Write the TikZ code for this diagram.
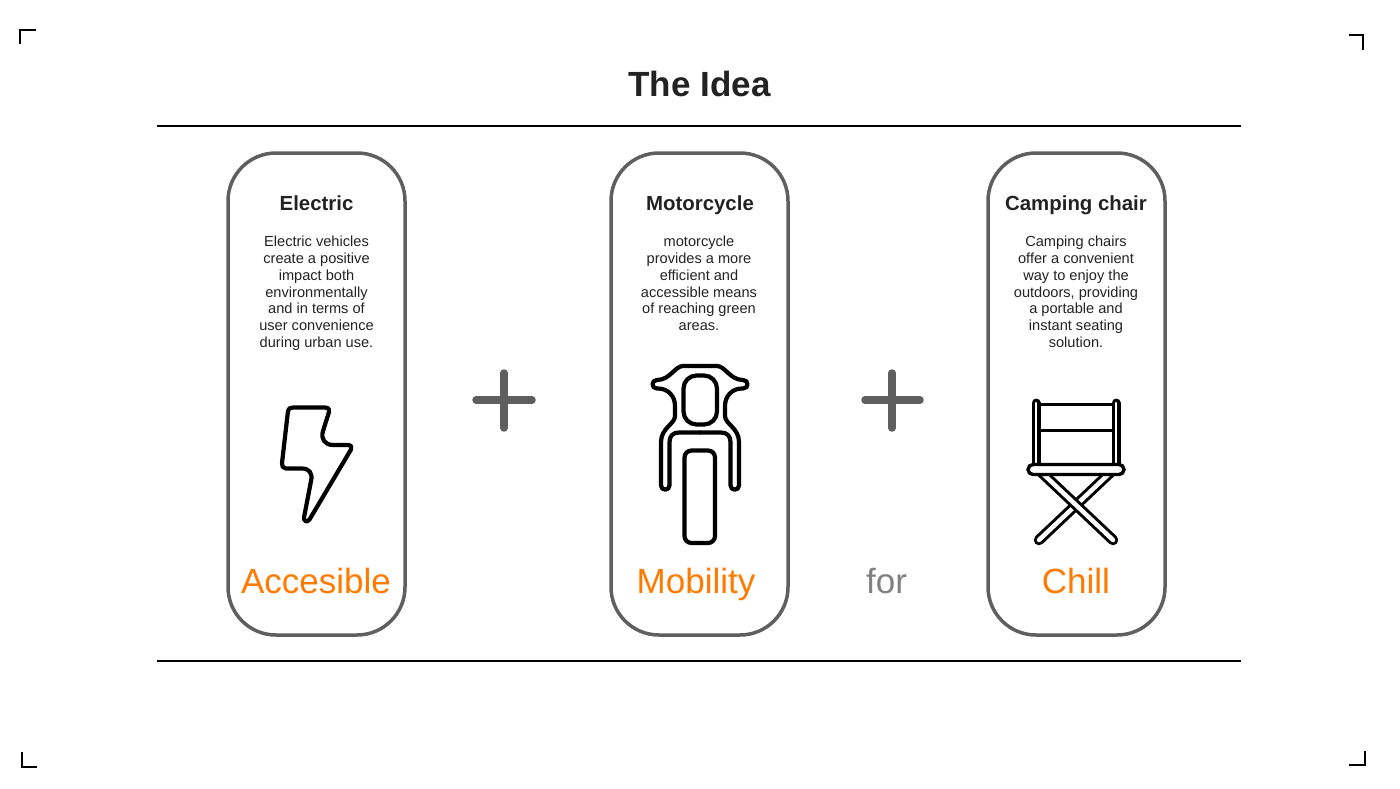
\documentclass[tikz,border=0pt]{standalone}
\usepackage{xcolor}
\usepackage{fontspec}
\setmainfont{Liberation Sans}
\definecolor{pillgray}{HTML}{5F5F5F}
\definecolor{wordorange}{HTML}{FF7A00}
\definecolor{wordgray}{HTML}{808080}
\definecolor{inkdark}{HTML}{222222}
\tikzset{
  cropmark/.style={black,line width=2pt},
  rulebar/.style={black,line width=2pt},
  pillbox/.style={pillgray,line width=3.5pt,rounded corners=48pt},
  plusbar/.style={pillgray,line width=7.5pt,line cap=round},
  icon/.style={black,line width=4.2pt,line join=round,line cap=round},
  headline/.style={font=\bfseries\fontsize{20.4}{24}\selectfont,text=inkdark,anchor=base},
  blurb/.style={font=\fontsize{14.6}{16.8}\selectfont,align=center,anchor=north,text=inkdark},
  keyword/.style={font=\fontsize{35}{40}\selectfont,text=wordorange,anchor=base}
}
\begin{document}
\begin{tikzpicture}[x=1pt,y=-1pt]
      \useasboundingbox (0,0) rectangle (1400,788);
      % corners
      \draw[cropmark] (20,44) -- (20,30) -- (36,30);
      \draw[cropmark] (1349,35) -- (1363,35) -- (1363,50);
      \draw[cropmark] (22,752) -- (22,767) -- (37,767);
      \draw[cropmark] (1349,765) -- (1365,765) -- (1365,751);
      % title and rules
      \node[font=\bfseries\fontsize{35}{40}\selectfont,text=inkdark] (title) at (699.5,84) {The Idea};
      \draw[rulebar] (157,126) -- (1241,126);
      \draw[rulebar] (157,661) -- (1241,661);
      % pills
      \draw[pillbox] (228,153) rectangle (405,635);
      \draw[pillbox] (611,153) rectangle (788,635);
      \draw[pillbox] (988,153) rectangle (1165,635);
      % plus signs
      \draw[plusbar] (476,400) -- (532,400);
      \draw[plusbar] (504,373) -- (504,428);
      \draw[plusbar] (865,400) -- (920,400);
      \draw[plusbar] (892,373) -- (892,428);
      % headings
      \node[headline] (electric) at (316.5,210) {Electric};
      \node[headline] (motorcycle) at (700,210) {Motorcycle};
      \node[headline] (chair) at (1076,210) {Camping chair};
      \node[blurb] (electrictext) at (316.5,232.5) {Electric vehicles\\create a positive\\impact both\\environmentally\\and in terms of\\user convenience\\during urban use.};
      \node[blurb] (motorcycletext) at (699,232.5) {motorcycle\\provides a more\\efficient and\\accessible means\\of reaching green\\areas.};
      \node[blurb] (chairtext) at (1076,232.5) {Camping chairs\\offer a convenient\\way to enjoy the\\outdoors, providing\\a portable and\\instant seating\\solution.};
      % bolt
      \draw[icon] (293,407.5) -- (325,407.5) .. controls (329,407.5) and (329.5,410) .. (329,412)
        -- (323,431) .. controls (320.5,439) and (325,445) .. (333,445) -- (348,445)
        .. controls (351.5,445) and (352,447.5) .. (351,449.5) -- (309.5,519.5)
        .. controls (307,523) and (303.5,521) .. (304,517.5) -- (311,481)
        .. controls (313,473) and (309,468.5) .. (302,468.5) -- (286,468.5)
        .. controls (283,468.5) and (281.5,466) .. (282,463) -- (288,411)
        .. controls (288.5,408.5) and (290,407.5) .. (293,407.5) -- cycle;
      % motorcycle
      \foreach \side in {1,-1} {
        \begin{scope}[shift={(700,0)},xscale=\side]
          \draw[icon] (0,366) -- (-17,366) .. controls (-25,366) and (-30,380) .. (-43,380)
            .. controls (-49,380) and (-49,388.5) .. (-43,388.5) -- (-42,388.5)
            .. controls (-32,388.5) and (-25,396) .. (-25,406) -- (-25,416)
            .. controls (-25,424) and (-39,428) .. (-39,442) -- (-39,485.5)
            .. controls (-39,491) and (-30.5,491) .. (-30.5,485.5) -- (-30.5,442)
            .. controls (-30.5,436) and (-27,432.5) .. (-21,432.5) -- (0,432.5);
        \end{scope}
      }
      \draw[icon,rounded corners=13pt] (683.5,375.5) rectangle (717,424.5);
      \draw[icon,rounded corners=7pt] (684.5,450.5) rectangle (715,543);
      % chair legs
      \draw[black,line width=10.5pt,line cap=round] (1112,471) -- (1039,540);
      \draw[white,line width=4.5pt,line cap=round] (1112,471) -- (1039,540);
      \draw[black,line width=10.5pt,line cap=round] (1040,471) -- (1113,540);
      \draw[white,line width=4.5pt,line cap=round] (1040,471) -- (1113,540);
      % chair back
      \draw[black,line width=3.6pt] (1040,404.5) -- (1112,404.5);
      \draw[black,line width=3.6pt] (1040,430.5) -- (1112,430.5);
      \draw[black,line width=9pt,line cap=round] (1036,466) -- (1036,403);
      \draw[white,line width=2.5pt,line cap=round] (1036,466) -- (1036,403);
      \draw[black,line width=9pt,line cap=round] (1116,466) -- (1116,403);
      \draw[white,line width=2.5pt,line cap=round] (1116,466) -- (1116,403);
      \draw[black,line width=3.4pt,fill=white,rounded corners=5pt] (1028,464.5) rectangle (1124,474.5);
      % bottom words
      \node[keyword] (accesible) at (316,593) {Accesible};
      \node[keyword] (mobility) at (696,593) {Mobility};
      \node[keyword,text=wordgray] (forword) at (886.5,593) {for};
      \node[keyword] (chill) at (1076,593) {Chill};
    \end{tikzpicture}
\end{document}
